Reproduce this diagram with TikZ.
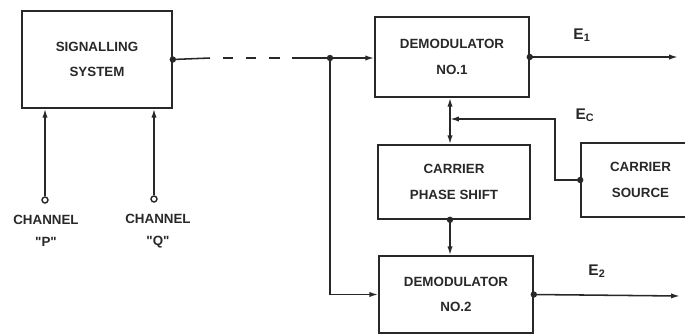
\documentclass[tikz,border=0pt]{standalone}
\usepackage{fontspec}
\setmainfont{Liberation Sans}
\usetikzlibrary{arrows.meta,positioning}
\definecolor{ink}{RGB}{40,40,40}

\begin{document}
\begin{tikzpicture}[x=0.25mm, y=-0.25mm,
    block/.style={draw=ink, line width=1.1pt, align=center, text=ink, inner sep=0pt, font=\fontsize{9.5}{18}\selectfont\bfseries},
    flow/.style={-{Latex[length=2.2mm,width=1.3mm]}, line width=1.1pt, draw=ink},
    wire/.style={line width=1.1pt, draw=ink},
    dot/.style={circle, fill=ink, inner sep=0pt, minimum size=1.6mm},
    term/.style={circle, draw=ink, line width=1pt, fill=white, inner sep=0pt, minimum size=1.5mm},
    lbl/.style={font=\fontsize{9.5}{16}\selectfont\bfseries, text=ink, align=center, inner sep=1pt},
    elbl/.style={font=\fontsize{11}{13}\selectfont\bfseries, text=ink, inner sep=1pt}
  ]
  \useasboundingbox (0,0) rectangle (685,335);

  \node[block, minimum width=37.5mm, minimum height=24.25mm] (sig) at (97,59.5) {SIGNALLING\\SYSTEM};
  \node[block, minimum width=38.5mm, minimum height=20mm] (dm1) at (452,57) {DEMODULATOR\\NO.1};
  \node[block, minimum width=38mm, minimum height=18.5mm] (cps) at (454,182) {CARRIER\\PHASE SHIFT};
  \node[block, minimum width=38.5mm, minimum height=19.25mm] (dm2) at (456,294.5) {DEMODULATOR\\NO.2};
  \node[block, minimum width=29.75mm, minimum height=18.5mm] (src) at (640.5,180) {CARRIER\\SOURCE};

  % junction dots
  \node[dot] (sigout) at (sig.east) {};
  \node[dot] (bus) at (330,58) {};
  \node[dot] (dm1out) at (dm1.east) {};
  \node[dot] (dm2out) at (dm2.east) {};
  \node[dot] (cpsout) at (cps.south -| 450,0) {};
  \node[dot] (srcout) at (src.west) {};

  % inputs
  \node[term] (inp) at (45,200) {};
  \node[term] (inq) at (154,199) {};
  \node[lbl] (lblp) at (46,231) {CHANNEL\\\textquotedbl P\textquotedbl};
  \node[lbl] (lblq) at (158,231) {CHANNEL\\\textquotedbl Q\textquotedbl};
  \draw[flow] (inp) -- (inp |- sig.south);
  \draw[flow] (inq) -- (inq |- sig.south);

  % line to the demodulators
  \coordinate (dsh1) at (210,58);
  \coordinate (dsh2) at (302,58);
  \draw[wire] (sigout.center) -- (dsh1);
  \draw[wire, dash pattern=on 2.6mm off 3.2mm, dash phase=2.6mm] (dsh1) -- (dsh2);
  \draw[wire] (dsh2) -- (bus.center);
  \draw[flow] (bus.center) -- (bus -| dm1.west);
  \draw[flow] (bus.center) |- (dm2.west);

  % carrier
  \coordinate (ecj) at (450,119);
  \coordinate (ecturn) at (555,119);
  \draw[flow] (srcout.center) -| (ecturn) -- (ecj);
  \draw[flow] (ecj) -- (ecj |- dm1.south);
  \draw[flow] (ecj) -- (ecj |- cps.north);
  \draw[flow] (cpsout.center) -- (cpsout |- dm2.north);
  \node[elbl] (eclbl) at (585,115) {E\textsubscript{C}};

  % outputs
  \coordinate (e1end) at (678,57);
  \coordinate (e2end) at (680,296);
  \draw[flow] (dm1out.center) -- (e1end);
  \draw[flow] (dm2out.center) -- (e2end);
  \node[elbl] (e1lbl) at (582,35) {E\textsubscript{1}};
  \node[elbl] (e2lbl) at (597,271) {E\textsubscript{2}};
\end{tikzpicture}
\end{document}
